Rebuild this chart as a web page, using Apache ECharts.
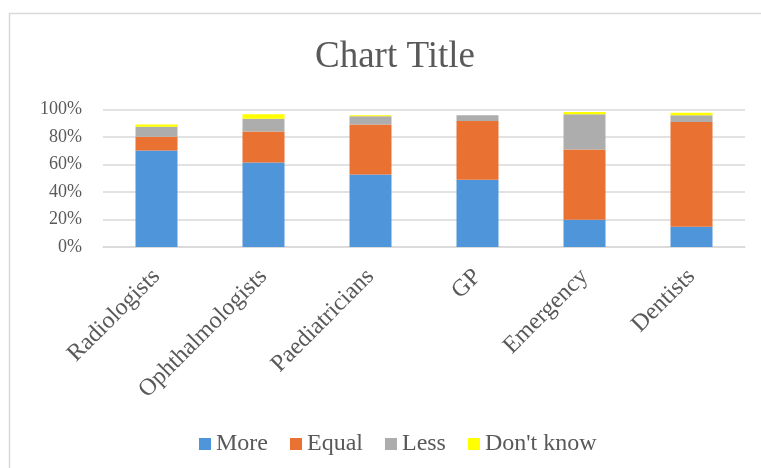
<!DOCTYPE html>
<html><head><meta charset="utf-8">
<script src="https://cdn.jsdelivr.net/npm/echarts@6/dist/echarts.min.js"></script>
<style>html,body{margin:0;padding:0;background:#fff}#c{width:761px;height:468px}</style>
</head><body><div id="c"></div>
<script>
var categories = ['Radiologists','Ophthalmologists','Paediatricians','GP','Emergency','Dentists'];
var more     = [0.701, 0.614, 0.527, 0.490, 0.199, 0.148];
var equal    = [0.100, 0.226, 0.364, 0.427, 0.510, 0.762];
var less     = [0.073, 0.092, 0.060, 0.041, 0.257, 0.049];
var dontKnow = [0.017, 0.034, 0.008, 0.000, 0.015, 0.017];
var yTicks = [0, 0.2, 0.4, 0.6, 0.8, 1.0];

var font = '"Liberation Serif","Times New Roman",serif';
var txt = '#595959';
var chart = echarts.init(document.getElementById('c'));
function s(name, data, color){
  return {name:name, type:'bar', stack:'all', data:data, barWidth:42,
    itemStyle:{color:color}, emphasis:{disabled:true}};
}
chart.setOption({
  animation:false,
  graphic:[{type:'rect', shape:{x:9.5,y:13.5,width:800,height:500},
    style:{fill:'none', stroke:'#d9d9d9', lineWidth:1.5}, silent:true}],
  title:{text:'Chart Title', left:390, textAlign:'center', top:34,
    textStyle:{fontFamily:font, fontSize:37, fontWeight:'normal', color:txt}},
  grid:{left:103, right:16, top:109.5, bottom:221, containLabel:false},
  legend:{top:427, left:194, itemWidth:12, itemHeight:12, itemGap:22,
    icon:'rect', textStyle:{fontFamily:font, fontSize:24, color:txt},
    data:['More','Equal','Less',"Don't know"]},
  xAxis:{type:'category', data:categories,
    axisLine:{lineStyle:{color:'#d9d9d9', width:1.5}}, axisTick:{show:false},
    axisLabel:{rotate:45, fontFamily:font, fontSize:24, color:txt, margin:26, interval:0}},
  yAxis:{type:'value', min:0, max:1, interval:0.2,
    axisLine:{show:false}, axisTick:{show:false},
    splitLine:{lineStyle:{color:'#d9d9d9', width:1.5}},
    axisLabel:{fontFamily:font, fontSize:18, color:txt, margin:21,
      formatter:function(v){return Math.round(v*100)+'%';}}},
  series:[
    s('More', more, '#4E95D9'),
    s('Equal', equal, '#E97132'),
    s('Less', less, '#ADADAD'),
    s("Don't know", dontKnow, '#FFFF00')
  ]
});
</script></body></html>
